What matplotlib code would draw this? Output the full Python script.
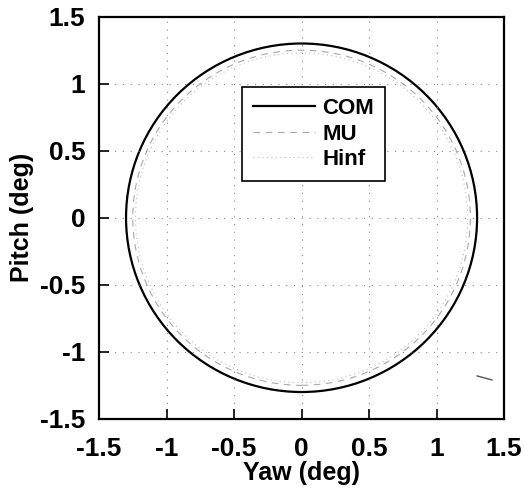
import numpy as np
import matplotlib
matplotlib.use('Agg')
import matplotlib.pyplot as plt
from matplotlib.patches import Circle

labels = ['COM', 'MU', 'Hinf']
radii = [1.30, 1.25, 1.23]
colors = ['black', '#a8a8a8', '#bdbdbd']
styles = ['-', (0, (6, 5)), (0, (1, 3))]
widths = [1.6, 0.8, 0.8]
stray_x = [1.30, 1.41]
stray_y = [-1.18, -1.21]
ticks = [-1.5, -1, -0.5, 0, 0.5, 1, 1.5]
tick_labels = ['-1.5', '-1', '-0.5', '0', '0.5', '1', '1.5']

plt.rcParams['font.family'] = ['Liberation Sans', 'DejaVu Sans']
plt.rcParams['font.weight'] = 'bold'

fig = plt.figure(figsize=(5.24, 4.91), dpi=100)
ax = fig.add_axes([0.189, 0.147, 0.773, 0.819])

handles = []
for lab, r, c, ls, lw in zip(labels, radii, colors, styles, widths):
    ax.add_patch(Circle((0, 0), r, fill=False, edgecolor=c, linestyle=ls, linewidth=lw))
    h, = ax.plot([], [], color=c, linestyle=ls, linewidth=lw, label=lab)
    handles.append(h)

ax.plot(stray_x, stray_y, color='#555555', linewidth=1.0)

ax.set_xlim(-1.5, 1.5)
ax.set_ylim(-1.5, 1.5)
ax.set_xticks(ticks)
ax.set_yticks(ticks)
ax.set_xticklabels(tick_labels)
ax.set_yticklabels(tick_labels)
ax.tick_params(direction='in', length=7.5, width=1.2, labelsize=19,
               top=False, right=False)
ax.tick_params(axis='x', pad=13)
ax.tick_params(axis='y', pad=10)
ax.grid(True, linestyle=(0, (1, 6)), color='#888888', linewidth=0.8)
for s in ax.spines.values():
    s.set_linewidth(1.6)

ax.set_xlabel('Yaw (deg)', fontsize=18, fontweight='bold', labelpad=0)
ax.set_ylabel('Pitch (deg)', fontsize=18, fontweight='bold', labelpad=4)

leg = ax.legend(handles=handles, loc='upper left', bbox_to_anchor=(0.353, 0.825),
                fontsize=16, handlelength=2.8, labelspacing=0.2, frameon=True,
                fancybox=False, edgecolor='black', framealpha=1,
                borderpad=0.5, handletextpad=0.3, borderaxespad=0)
leg.get_frame().set_linewidth(1.2)
for t in leg.get_texts():
    t.set_fontweight('bold')

fig.savefig('out.png', dpi=100)
